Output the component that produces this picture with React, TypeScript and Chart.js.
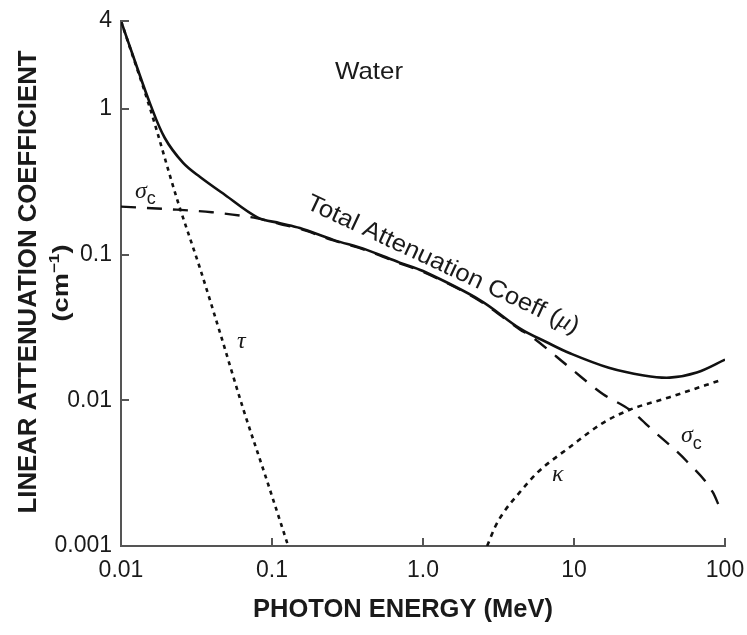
import React, { useEffect, useRef } from 'react';
import { Chart, registerables } from 'chart.js';

Chart.register(...registerables);

// Photon energy (MeV) / linear attenuation coefficient (cm^-1)
const totalEnergy = [0.01, 0.0124, 0.0156, 0.0195, 0.0258, 0.0334, 0.0489, 0.08, 0.113, 0.153, 0.255, 0.42, 0.7, 1.0, 2.38, 4.4, 6.6, 9.4, 17, 29, 43, 65, 100];
const totalMu = [4.0, 2.1, 1.08, 0.63, 0.425, 0.34, 0.256, 0.18, 0.164, 0.152, 0.126, 0.108, 0.088, 0.077, 0.0487, 0.031, 0.025, 0.021, 0.0167, 0.0148, 0.0143, 0.0155, 0.019];

const comptonEnergy = [0.01, 0.02, 0.04, 0.08, 0.113, 0.153, 0.255, 0.42, 0.7, 1.0, 2.38, 4.4, 5.1, 9.4, 15.6, 23.4, 33.4, 56, 83, 92];
const comptonSigma = [0.213, 0.205, 0.195, 0.177, 0.162, 0.15, 0.125, 0.107, 0.087, 0.076, 0.048, 0.0305, 0.0278, 0.0167, 0.011, 0.0086, 0.0062, 0.0038, 0.00234, 0.00185];

const photoEnergy = [0.01, 0.0156, 0.0235, 0.0334, 0.0453, 0.0643, 0.0927, 0.128];
const photoTau = [4.0, 1.0, 0.24, 0.08, 0.029, 0.0088, 0.0028, 0.001];

const pairEnergy = [2.66, 3.0, 3.39, 4.38, 5.69, 9.4, 15.6, 23.4, 43, 95];
const pairKappa = [0.001, 0.00135, 0.00168, 0.00234, 0.00317, 0.00478, 0.007, 0.0086, 0.0105, 0.0138];

const xTickValues = [0.01, 0.1, 1, 10, 100];
const xTickLabels = ['0.01', '0.1', '1.0', '10', '100'];
const yTickValues = [0.001, 0.01, 0.1, 1, 4];
const yTickLabels = ['0.001', '0.01', '0.1', '1', '4'];

const INK = '#1a1a1a';
const AXIS = '#555555';

type Seg = { text: string; font: string; dy?: number };

function drawRich(
  ctx: CanvasRenderingContext2D,
  segs: Seg[],
  x: number,
  y: number,
  opts: { rot?: number; width?: number; align?: 'left' | 'center' }
) {
  ctx.save();
  ctx.fillStyle = INK;
  ctx.textBaseline = 'alphabetic';
  ctx.textAlign = 'left';
  const widths = segs.map((s) => {
    ctx.font = s.font;
    return ctx.measureText(s.text).width;
  });
  const total = widths.reduce((a, b) => a + b, 0);
  const sx = opts.width ? opts.width / total : 1;
  ctx.translate(x, y);
  if (opts.rot) ctx.rotate(opts.rot);
  ctx.scale(sx, 1);
  let cx = opts.align === 'center' ? -total / 2 : 0;
  segs.forEach((s, i) => {
    ctx.font = s.font;
    ctx.fillText(s.text, cx, s.dy || 0);
    cx += widths[i];
  });
  ctx.restore();
}

const SANS = '"Liberation Sans", Arial, sans-serif';
const SERIF = '"Liberation Serif", "Times New Roman", serif';

const tickMarkPlugin = {
  id: 'tickMarks',
  afterDatasetsDraw(chart: any) {
    const { ctx } = chart;
    const x = chart.scales.x;
    const y = chart.scales.y;
    ctx.save();
    ctx.strokeStyle = AXIS;
    ctx.lineWidth = 2;
    ctx.beginPath();
    y.ticks.forEach((t: any) => {
      const py = Math.round(y.getPixelForValue(t.value));
      ctx.moveTo(y.right, py);
      ctx.lineTo(y.right + 8, py);
    });
    x.ticks.forEach((t: any) => {
      const px = Math.round(x.getPixelForValue(t.value));
      ctx.moveTo(px, x.top);
      ctx.lineTo(px, x.top - 8);
    });
    ctx.stroke();
    ctx.restore();
  },
};

const textPlugin = {
  id: 'texts',
  afterDraw(chart: any) {
    const ctx: CanvasRenderingContext2D = chart.ctx;
    // axis titles
    drawRich(ctx, [{ text: 'LINEAR ATTENUATION COEFFICIENT', font: `bold 25px ${SANS}` }], 36, 282, {
      rot: -Math.PI / 2,
      width: 463,
      align: 'center',
    });
    drawRich(
      ctx,
      [
        { text: '(cm', font: `bold 22px ${SANS}` },
        { text: '\u2212', font: `bold 14px ${SANS}`, dy: -9 },
        { text: '1', font: `bold 14px ${SANS}`, dy: -9 },
        { text: ')', font: `bold 22px ${SANS}` },
      ],
      68,
      283,
      { rot: -Math.PI / 2, width: 77, align: 'center' }
    );
    drawRich(ctx, [{ text: 'PHOTON ENERGY (MeV)', font: `bold 25px ${SANS}` }], 403, 617, {
      width: 300,
      align: 'center',
    });
    // annotations
    drawRich(ctx, [{ text: 'Water', font: `24px ${SANS}` }], 335, 79, { width: 68 });
    drawRich(
      ctx,
      [
        { text: 'Total Attenuation Coeff (', font: `24px ${SANS}` },
        { text: '\u03bc', font: `italic 24px ${SERIF}` },
        { text: ')', font: `24px ${SANS}` },
      ],
      305,
      208,
      { rot: (25 * Math.PI) / 180, width: 298 }
    );
    drawRich(
      ctx,
      [
        { text: '\u03c3', font: `italic 24px ${SERIF}` },
        { text: 'c', font: `18px ${SANS}`, dy: 6 },
      ],
      135,
      198,
      {}
    );
    drawRich(ctx, [{ text: '\u03c4', font: `italic 24px ${SERIF}` }], 237, 348, {});
    drawRich(ctx, [{ text: '\u03ba', font: `italic 24px ${SERIF}` }], 552, 481, {});
    drawRich(
      ctx,
      [
        { text: '\u03c3', font: `italic 24px ${SERIF}` },
        { text: 'c', font: `18px ${SANS}`, dy: 7 },
      ],
      681,
      442,
      {}
    );
  },
};

function pts(xs: number[], ys: number[]) {
  return xs.map((x, i) => ({ x, y: ys[i] }));
}

function labelFor(values: number[], labels: string[], v: number) {
  const i = values.findIndex((t) => Math.abs(Math.log10(t) - Math.log10(v)) < 1e-6);
  return i >= 0 ? labels[i] : '';
}

export default function App() {
  const ref = useRef<HTMLCanvasElement>(null);
  useEffect(() => {
    const canvas = ref.current!;
    const common = {
      pointRadius: 0,
      borderColor: '#111111',
      backgroundColor: '#111111',
      fill: false,
      cubicInterpolationMode: 'monotone' as const,
    };
    const chart = new Chart(canvas, {
      type: 'line',
      data: {
        datasets: [
          {
            ...common,
            label: 'Total',
            data: pts(totalEnergy, totalMu),
            borderWidth: 2.6,
            cubicInterpolationMode: 'default',
            tension: 0.35,
          },
          { ...common, label: 'Compton', data: pts(comptonEnergy, comptonSigma), borderWidth: 2.4, borderDash: [15, 11] },
          { ...common, label: 'Photoelectric', data: pts(photoEnergy, photoTau), borderWidth: 2.6, borderDash: [4, 4.5] },
          { ...common, label: 'Pair', data: pts(pairEnergy, pairKappa), borderWidth: 2.6, borderDash: [5, 5] },
        ],
      },
      options: {
        animation: false,
        responsive: false,
        devicePixelRatio: 1,
        layout: { padding: { left: 0, top: 21, right: 22, bottom: 29 } },
        plugins: { legend: { display: false }, tooltip: { enabled: false } },
        scales: {
          x: {
            type: 'logarithmic',
            min: 0.01,
            max: 100,
            afterBuildTicks: (s: any) => {
              s.ticks = xTickValues.map((v) => ({ value: v }));
            },
            afterFit: (s: any) => {
              s.height = 60;
              s.paddingLeft = 0;
              s.paddingRight = 0;
            },
            grid: { display: false, drawTicks: false },
            border: { display: true, color: AXIS, width: 2 },
            ticks: {
              autoSkip: false,
              maxRotation: 0,
              minRotation: 0,
              padding: 11,
              color: INK,
              font: { family: SANS, size: 23 },
              callback: (v: any) => labelFor(xTickValues, xTickLabels, Number(v)),
            },
          },
          y: {
            type: 'logarithmic',
            min: 0.001,
            max: 4,
            afterBuildTicks: (s: any) => {
              s.ticks = yTickValues.map((v) => ({ value: v }));
            },
            afterFit: (s: any) => {
              s.width = 121;
              s.paddingTop = 0;
              s.paddingBottom = 0;
            },
            grid: { display: false, drawTicks: false },
            border: { display: true, color: AXIS, width: 2 },
            ticks: {
              autoSkip: false,
              padding: 9,
              color: INK,
              font: { family: SANS, size: 23 },
              callback: (v: any) => labelFor(yTickValues, yTickLabels, Number(v)),
            },
          },
        },
      },
      plugins: [tickMarkPlugin, textPlugin],
    } as any);
    return () => chart.destroy();
  }, []);
  return (
    <div style={{ position: 'absolute', left: 0, top: 0, width: 747, height: 635, background: '#ffffff' }}>
      <canvas ref={ref} width={747} height={635} style={{ display: 'block', width: 747, height: 635 }} />
    </div>
  );
}
